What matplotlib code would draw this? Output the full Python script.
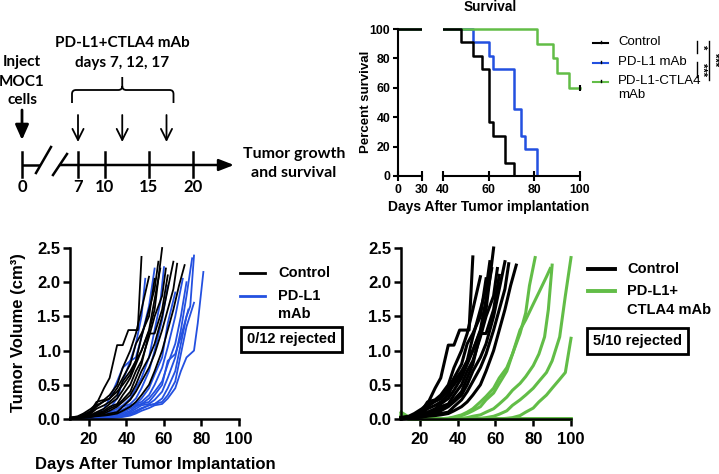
import matplotlib
matplotlib.use("Agg")
import matplotlib.pyplot as plt
from matplotlib.path import Path
from matplotlib.patches import PathPatch
from matplotlib.ticker import FormatStrFormatter

plt.rcParams["font.family"] = ["Liberation Sans", "DejaVu Sans"]
plt.rcParams["font.weight"] = "bold"

BLACK = "#000000"
BLUE = "#2350E0"
GREEN = "#62BD47"

#%% data
# schematic timeline
tl_days = [0, 7, 10, 15, 20]
dose_days = [7, 12, 17]

# survival (Kaplan-Meier steps)
surv_ctrl_t = [0, 48, 53, 57, 60, 62, 67, 71]
surv_ctrl_p = [100, 90.9, 81.8, 72.7, 36.4, 27.3, 9.1, 0]
surv_pdl1_t = [0, 53, 60, 62, 71, 74, 76, 81]
surv_pdl1_p = [100, 90.9, 81.8, 72.7, 45.5, 27.3, 18.2, 0]
surv_combo_t = [0, 81, 88, 90, 95, 100]
surv_combo_p = [100, 90, 80, 70, 60, 60]

# tumor growth, one list per mouse
ctrl_days = [
    [10, 14, 17, 21, 24, 28, 31, 35, 38, 41, 46, 48],
    [10, 14, 17, 21, 24, 28, 31, 35, 38, 42, 45, 48, 52],
    [10, 14, 17, 21, 24, 28, 31, 35, 38, 42, 45, 48, 52, 55],
    [10, 14, 17, 21, 24, 28, 31, 35, 38, 42, 45, 48, 52, 55, 57],
    [10, 14, 17, 21, 24, 28, 31, 35, 38, 42, 45, 48, 52, 55, 58],
    [10, 14, 17, 21, 24, 28, 31, 35, 38, 42, 45, 48, 52, 55, 59],
    [10, 14, 17, 21, 24, 28, 31, 35, 38, 42, 45, 48, 52, 55, 59, 61],
    [10, 14, 17, 21, 24, 28, 31, 35, 38, 42, 45, 48, 52, 55, 59, 62],
    [10, 14, 17, 21, 24, 28, 31, 35, 38, 42, 45, 48, 52, 55, 59, 62, 65],
    [10, 14, 17, 21, 24, 28, 31, 35, 38, 42, 45, 48, 52, 55, 59, 62, 65, 67],
    [10, 14, 17, 21, 24, 28, 31, 35, 38, 42, 45, 48, 52, 55, 59, 62, 65, 68, 71],
]
ctrl_vol = [
    [0.02, 0.04, 0.08, 0.15, 0.22, 0.45, 0.6, 1.08, 1.08, 1.3, 1.3, 2.37],
    [0.01, 0.03, 0.06, 0.12, 0.25, 0.28, 0.35, 0.5, 0.75, 1.0, 1.25, 1.6, 2.08],
    [0.02, 0.03, 0.05, 0.1, 0.2, 0.26, 0.3, 0.45, 0.6, 0.8, 1.1, 1.25, 1.5, 2.05],
    [0.01, 0.02, 0.04, 0.08, 0.15, 0.2, 0.25, 0.35, 0.55, 0.7, 0.85, 1.2, 1.6, 1.9, 2.3],
    [0.02, 0.03, 0.05, 0.1, 0.18, 0.26, 0.3, 0.4, 0.5, 0.65, 0.85, 1.0, 1.3, 1.75, 2.2],
    [0.01, 0.02, 0.04, 0.06, 0.1, 0.15, 0.22, 0.3, 0.42, 0.6, 0.8, 1.0, 1.28, 1.6, 2.5],
    [0.01, 0.02, 0.03, 0.05, 0.08, 0.12, 0.18, 0.22, 0.35, 0.5, 0.7, 0.85, 1.2, 1.5, 1.8, 2.2],
    [0.01, 0.02, 0.03, 0.05, 0.07, 0.1, 0.15, 0.2, 0.28, 0.4, 0.6, 0.8, 1.25, 1.25, 1.6, 2.1],
    [0.01, 0.02, 0.03, 0.04, 0.06, 0.08, 0.12, 0.18, 0.25, 0.35, 0.5, 0.7, 0.9, 1.1, 1.5, 1.9, 2.3],
    [0.0, 0.01, 0.02, 0.03, 0.05, 0.06, 0.08, 0.1, 0.18, 0.28, 0.4, 0.55, 0.75, 0.95, 1.3, 1.6, 1.9, 2.27],
    [0.0, 0.01, 0.02, 0.03, 0.04, 0.05, 0.06, 0.08, 0.12, 0.18, 0.25, 0.35, 0.5, 0.7, 1.0, 1.3, 1.6, 1.95, 2.25],
]

pdl1_days = [
    [10, 14, 17, 21, 24, 28, 31, 35, 38, 42, 45, 48, 50],
    [10, 14, 17, 21, 24, 28, 31, 35, 38, 42, 45, 48, 52, 55],
    [10, 14, 17, 21, 24, 28, 31, 35, 38, 42, 45, 48, 52, 55, 58, 60],
    [10, 14, 17, 21, 24, 28, 31, 35, 38, 42, 45, 48, 52, 55, 59, 62],
    [10, 14, 17, 21, 24, 28, 31, 35, 38, 42, 45, 48, 52, 55, 59, 62, 66],
    [10, 14, 17, 21, 24, 28, 31, 35, 38, 42, 45, 48, 52, 55, 59, 62, 66, 70],
    [10, 14, 17, 21, 24, 28, 31, 35, 38, 42, 45, 48, 52, 55, 59, 62, 66, 69, 72],
    [10, 14, 17, 21, 24, 28, 31, 35, 38, 42, 45, 48, 52, 55, 59, 62, 66, 69, 73],
    [10, 14, 17, 21, 24, 28, 31, 35, 38, 42, 45, 48, 52, 55, 59, 62, 66, 69, 72, 75],
    [10, 14, 17, 21, 24, 28, 31, 35, 38, 42, 45, 48, 52, 55, 59, 62, 66, 69, 72, 74, 76],
    [10, 14, 17, 21, 24, 28, 31, 35, 38, 42, 45, 48, 52, 55, 59, 62, 66, 69, 72, 76],
    [10, 14, 17, 21, 24, 28, 31, 35, 38, 42, 45, 48, 52, 55, 59, 62, 66, 69, 72, 76, 78, 81],
]
pdl1_vol = [
    [0.01, 0.02, 0.03, 0.05, 0.08, 0.15, 0.3, 0.55, 0.75, 0.85, 1.1, 1.5, 2.05],
    [0.0, 0.01, 0.02, 0.04, 0.06, 0.1, 0.15, 0.3, 0.55, 0.85, 0.9, 1.2, 1.65, 2.2],
    [0.0, 0.01, 0.02, 0.03, 0.04, 0.06, 0.1, 0.15, 0.2, 0.3, 0.45, 0.6, 0.9, 1.3, 1.7, 2.22],
    [0.0, 0.01, 0.01, 0.02, 0.03, 0.05, 0.08, 0.12, 0.18, 0.22, 0.3, 0.45, 0.7, 1.0, 1.45, 1.95],
    [0.0, 0.0, 0.01, 0.02, 0.03, 0.04, 0.06, 0.1, 0.14, 0.2, 0.22, 0.3, 0.45, 0.65, 0.9, 1.4, 1.85],
    [0.0, 0.0, 0.01, 0.01, 0.02, 0.03, 0.05, 0.08, 0.12, 0.18, 0.22, 0.25, 0.35, 0.5, 0.75, 1.05, 1.5, 2.05],
    [0.0, 0.0, 0.0, 0.01, 0.02, 0.03, 0.04, 0.06, 0.1, 0.15, 0.2, 0.22, 0.3, 0.4, 0.55, 0.8, 1.1, 1.5, 2.0],
    [0.0, 0.0, 0.0, 0.01, 0.01, 0.02, 0.03, 0.05, 0.08, 0.12, 0.18, 0.22, 0.25, 0.35, 0.5, 0.85, 0.95, 1.2, 1.6],
    [0.0, 0.0, 0.0, 0.01, 0.01, 0.02, 0.03, 0.04, 0.06, 0.1, 0.15, 0.2, 0.22, 0.28, 0.4, 0.6, 0.9, 1.3, 1.8, 2.35],
    [0.0, 0.0, 0.0, 0.0, 0.01, 0.01, 0.02, 0.03, 0.05, 0.08, 0.12, 0.16, 0.2, 0.22, 0.3, 0.45, 0.7, 1.1, 1.5, 1.65, 2.39],
    [0.0, 0.0, 0.0, 0.0, 0.01, 0.01, 0.02, 0.03, 0.04, 0.06, 0.1, 0.15, 0.2, 0.22, 0.25, 0.35, 0.55, 0.95, 1.35, 1.7],
    [0.0, 0.0, 0.0, 0.0, 0.0, 0.01, 0.01, 0.02, 0.03, 0.05, 0.08, 0.12, 0.16, 0.2, 0.22, 0.3, 0.45, 0.7, 0.9, 1.0, 1.4, 2.15],
]

combo_days = [
    [10, 14, 17, 100],
    [10, 14, 21, 100],
    [10, 14, 100],
    [10, 17, 100],
    [10, 14, 100],
    [10, 14, 17, 21, 28, 35, 38, 42, 45, 48, 52, 55, 59, 62, 66, 69, 73, 76, 78, 81],
    [10, 14, 21, 28, 35, 38, 42, 45, 48, 52, 55, 59, 62, 66, 69, 73, 76, 80, 83, 87, 89],
    [10, 14, 21, 28, 35, 42, 45, 48, 52, 55, 59, 62, 66, 69, 73, 76, 80, 83, 86, 88, 90],
    [10, 14, 21, 35, 45, 52, 55, 59, 62, 66, 69, 73, 76, 80, 83, 87, 90, 94, 97, 100],
    [10, 14, 21, 35, 45, 55, 62, 66, 69, 73, 76, 80, 83, 87, 90, 94, 97, 100],
]
combo_vol = [
    [0.1, 0.03, 0.0, 0.0],
    [0.08, 0.02, 0.0, 0.0],
    [0.05, 0.0, 0.0],
    [0.03, 0.0, 0.0],
    [0.02, 0.0, 0.0],
    [0.05, 0.02, 0.01, 0.0, 0.0, 0.01, 0.03, 0.06, 0.1, 0.15, 0.25, 0.33, 0.45, 0.6, 0.75, 0.95, 1.25, 1.55, 1.95, 2.36],
    [0.05, 0.01, 0.0, 0.0, 0.01, 0.02, 0.05, 0.08, 0.12, 0.18, 0.28, 0.38, 0.52, 0.7, 0.95, 1.3, 1.45, 1.68, 1.85, 2.08, 2.2],
    [0.04, 0.01, 0.0, 0.0, 0.0, 0.01, 0.02, 0.04, 0.06, 0.1, 0.15, 0.22, 0.32, 0.42, 0.52, 0.62, 0.78, 0.95, 1.2, 1.6, 2.25],
    [0.03, 0.0, 0.0, 0.0, 0.0, 0.01, 0.02, 0.04, 0.07, 0.12, 0.2, 0.28, 0.35, 0.45, 0.55, 0.68, 0.85, 1.2, 1.8, 2.36],
    [0.03, 0.0, 0.0, 0.0, 0.0, 0.0, 0.0, 0.01, 0.02, 0.05, 0.1, 0.16, 0.25, 0.35, 0.45, 0.58, 0.68, 1.18],
]

vol_ticks = [0.0, 0.5, 1.0, 1.5, 2.0, 2.5]
day_ticks = [20, 40, 60, 80, 100]

#%% figure
W, H = 719, 474
fig = plt.figure(figsize=(W / 100, H / 100), dpi=100)


def px_axes(x0, x1, y_top, y_bot):
    ax = fig.add_axes([x0 / W, 1 - y_bot / H, (x1 - x0) / W, (y_bot - y_top) / H])
    ax.set_facecolor("none")
    return ax


def style_axes(ax, lw, fs, tlen):
    for s in ["top", "right"]:
        ax.spines[s].set_visible(False)
    for s in ["left", "bottom"]:
        ax.spines[s].set_linewidth(lw)
    ax.tick_params(width=lw, length=tlen, labelsize=fs, pad=2)
    for lab in ax.get_xticklabels() + ax.get_yticklabels():
        lab.set_fontweight("bold")


#%% survival panel (broken x axis)
sy0, sy100 = 176, 29
ppu = (sy0 - sy100) / 100
ax_s1 = px_axes(398, 422, sy0 - 104 * ppu, sy0)
ax_s2 = px_axes(443, 443 + 62 * 137 / 60, sy0 - 104 * ppu, sy0)
for ax in (ax_s1, ax_s2):
    ax.step(surv_pdl1_t, surv_pdl1_p, where="post", color=BLUE, lw=1.8)
    ax.step(surv_combo_t, surv_combo_p, where="post", color=GREEN, lw=1.8)
    ax.step(surv_ctrl_t, surv_ctrl_p, where="post", color=BLACK, lw=1.8)
    ax.set_ylim(0, 104)
    style_axes(ax, 1.5, 8.8, 3.5)
ax_s2.plot([surv_combo_t[-1]], [surv_combo_p[-1]], marker="|", color=BLACK, ms=4, mew=1.5)
ax_s1.set_xlim(0, 30)
ax_s1.set_xticks([0, 30])
ax_s1.set_yticks([0, 20, 40, 60, 80, 100])
ax_s1.spines["left"].set_bounds(0, 100)
ax_s2.set_xlim(40, 102)
ax_s2.set_xticks([40, 60, 80, 100])
ax_s2.spines["bottom"].set_bounds(40, 100)
ax_s2.spines["left"].set_visible(False)
ax_s2.set_yticks([])
for ax in (ax_s1, ax_s2):
    ax.tick_params(axis="x", direction="inout", length=7)
    for lab in ax.get_xticklabels() + ax.get_yticklabels():
        lab.set_fontweight("bold")

#%% tumor growth panels
ax_l = px_axes(70.25, 239, 248, 419)
for d, v in zip(pdl1_days, pdl1_vol):
    assert len(d) == len(v)
    ax_l.plot(d, v, color=BLUE, lw=1.3, clip_on=False)
for d, v in zip(ctrl_days, ctrl_vol):
    assert len(d) == len(v)
    ax_l.plot(d, v, color=BLACK, lw=1.3, clip_on=False)

ax_r = px_axes(401.1, 571, 248, 419)
for d, v in zip(combo_days, combo_vol):
    assert len(d) == len(v)
    ax_r.plot(d, v, color=GREEN, lw=2.2, clip_on=False)
for d, v in zip(ctrl_days, ctrl_vol):
    ax_r.plot(d, v, color=BLACK, lw=2.2, clip_on=False)

for ax in (ax_l, ax_r):
    ax.set_xlim(10, 100)
    ax.set_ylim(0, 2.5)
    ax.set_xticks(day_ticks)
    ax.set_yticks(vol_ticks)
    ax.yaxis.set_major_formatter(FormatStrFormatter("%.1f"))
    style_axes(ax, 1.8, 12, 5)
    ax.tick_params(axis="x", pad=4)

#%% overlay in pixel coordinates: schematic, labels, legends
ov = fig.add_axes([0, 0, 1, 1])
ov.set_xlim(0, W)
ov.set_ylim(H, 0)
ov.axis("off")

sch = dict(family=["Lato", "DejaVu Sans"], fontweight="bold", fontsize=11,
           ha="center", va="center")


def tl_x(d):
    # day 0 sits left of the axis break, the rest share one scale
    return 22 if d == 0 else 78 + (d - 7) * 8.85


ty = 165
ov.plot([tl_x(0), 40], [ty, ty], color="k", lw=1.8, solid_capstyle="butt")
ov.annotate("", xy=(234, ty), xytext=(60, ty),
            arrowprops=dict(arrowstyle="-|>,head_length=0.9,head_width=0.35",
                            lw=1.8, color="k", shrinkA=0, shrinkB=0))
ov.plot([36, 51], [173, 147], color="k", lw=1.8)
ov.plot([53, 67], [175, 154], color="k", lw=1.8)
for d in tl_days:
    ov.plot([tl_x(d), tl_x(d)], [152, 177], color="k", lw=1.8)
    ov.text(tl_x(d), 187, str(d), **{**sch, "fontsize": 12})

for d in dose_days:
    ov.annotate("", xy=(tl_x(d), 142), xytext=(tl_x(d), 115),
                arrowprops=dict(arrowstyle="->,head_length=0.8,head_width=0.4",
                                lw=1.3, color="k", shrinkA=0, shrinkB=0))
ov.annotate("", xy=(tl_x(0), 140), xytext=(tl_x(0), 110),
            arrowprops=dict(arrowstyle="-|>,head_length=0.9,head_width=0.4",
                            lw=2, color="k", shrinkA=0, shrinkB=0))

# brace over the dosing arrows
bl, bc, br = tl_x(dose_days[0]) - 6, tl_x(dose_days[1]), tl_x(dose_days[-1]) + 7
brace = Path(
    [(bl, 103), (bl, 94), (bl, 90), (bl + 4, 90), (bc - 4, 90), (bc, 90), (bc, 86), (bc, 77),
     (bc, 86), (bc, 90), (bc + 4, 90), (br - 4, 90), (br, 90), (br, 94), (br, 103)],
    [Path.MOVETO, Path.LINETO, Path.CURVE3, Path.CURVE3, Path.LINETO, Path.CURVE3, Path.CURVE3,
     Path.LINETO, Path.MOVETO, Path.CURVE3, Path.CURVE3, Path.LINETO, Path.CURVE3, Path.CURVE3,
     Path.LINETO])
ov.add_patch(PathPatch(brace, fill=False, lw=1.3, color="k"))

ov.text(bc, 43, "PD-L1+CTLA4 mAb", **sch)
ov.text(bc, 63, "days " + ", ".join(str(d) for d in dose_days), **sch)
ov.text(tl_x(0), 62, "Inject", **sch)
ov.text(tl_x(0), 82, "MOC1", **sch)
ov.text(tl_x(0), 100, "cells", **sch)
ov.text(294, 154, "Tumor growth", **{**sch, "fontsize": 11.5})
ov.text(294, 173, "and survival", **{**sch, "fontsize": 11.5})

# survival labels, legend and significance bars
ov.text(490, 7, "Survival", fontsize=9.8, fontweight="bold", ha="center", va="center")
ov.text(366, 102, "Percent survival", fontsize=9.5, fontweight="bold",
        ha="center", va="center", rotation=90)
ov.text(489, 207, "Days After Tumor implantation", fontsize=10, fontweight="bold",
        ha="center", va="center")
for yy, col, lab in [(43, BLACK, "Control"), (63, BLUE, "PD-L1 mAb"),
                     (82, GREEN, "PD-L1-CTLA4\nmAb")]:
    ov.plot([593, 608], [yy, yy], color=col, lw=1.5)
    ov.plot([600.5, 600.5], [yy - 2.5, yy], color=BLACK, lw=1)
    ov.text(618, yy - 7, lab, fontsize=9.5, fontweight="normal", ha="left", va="top",
            linespacing=1.25)
ov.plot([697, 697], [41, 53], color="k", lw=1)
ov.plot([697, 697], [62, 77], color="k", lw=1)
ov.plot([709, 709], [41, 80], color="k", lw=1)
ov.text(702, 47, "*", fontsize=8, ha="center", va="center", rotation=-90)
ov.text(702, 69.5, "***", fontsize=8, ha="center", va="center", rotation=-90)
ov.text(714, 60, "***", fontsize=8, ha="center", va="center", rotation=-90)

# tumor growth labels
ov.text(19, 333, "Tumor Volume (cm³)", fontsize=12, fontweight="bold",
        ha="center", va="center", rotation=90)
ov.text(155, 464, "Days After Tumor Implantation", fontsize=12, fontweight="bold",
        ha="center", va="center")

leg = dict(fontsize=10.5, fontweight="bold", ha="left", va="center")
box = dict(boxstyle="square,pad=0.4", fc="white", ec="black", lw=2)

ov.plot([240, 265], [273, 273], color=BLACK, lw=2)
ov.plot([240, 265], [296, 296], color=BLUE, lw=2)
ov.text(278, 273, "Control", **leg)
ov.text(278, 296, "PD-L1", **leg)
ov.text(278, 314, "mAb", **leg)
ov.text(291.5, 339.5, "0/12 rejected", fontsize=10.5, fontweight="bold",
        ha="center", va="center", bbox=box)

ov.plot([588, 615], [269, 269], color=BLACK, lw=2.8)
ov.plot([588, 615], [291, 291], color=GREEN, lw=2.8)
ov.text(627, 269, "Control", **leg)
ov.text(627, 291, "PD-L1+", **leg)
ov.text(627, 310, "CTLA4 mAb", **leg)
ov.text(637.5, 341, "5/10 rejected", fontsize=10.5, fontweight="bold",
        ha="center", va="center", bbox=box)

fig.savefig("out.png", dpi=100)
